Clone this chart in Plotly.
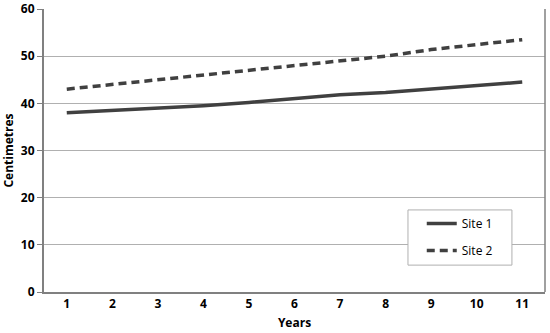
import plotly.graph_objects as go

years = [str(i) for i in range(1, 12)]
site1 = [38.0, 38.5, 39.0, 39.5, 40.2, 41.0, 41.8, 42.3, 43.0, 43.8, 44.5]
site2 = [43.0, 44.0, 45.0, 46.0, 47.0, 48.0, 49.0, 50.0, 51.4, 52.5, 53.5]
y_ticks = [0, 10, 20, 30, 40, 50, 60]

fig = go.Figure()
fig.add_trace(go.Scatter(x=years, y=site1, mode="lines", name="Site 1", legendgroup="s1",
                         line=dict(color="#404040", width=3.5)))
fig.add_trace(go.Scatter(x=years, y=site2, mode="lines", name="Site 2", legendgroup="s2",
                         line=dict(color="#404040", width=3.5, dash="8px,5px")))

font_family = "Open Sans, Liberation Sans, Arial, sans-serif"
fig.update_layout(
    width=550, height=333,
    margin=dict(l=44, r=5, t=9, b=41, autoexpand=False),
    paper_bgcolor="white", plot_bgcolor="white",
    font=dict(family=font_family, size=12, color="#000000"),
    showlegend=True,
    legend=dict(x=0.754, y=0.293, xanchor="left", yanchor="top",
                bgcolor="rgba(0,0,0,0)", borderwidth=0,
                font=dict(size=12), tracegroupgap=8,
                itemwidth=30),
    xaxis=dict(type="category", range=[-0.5, 10.5], automargin=False,
               showgrid=False, showline=True, linecolor="#808080", linewidth=2,
               mirror=False, ticks="", tickfont=dict(size=12, weight="bold"),
               title=dict(text="<b>Years</b>", font=dict(size=12), standoff=7)),
    yaxis=dict(range=[0, 60], tickvals=y_ticks, showgrid=True, automargin=False,
               gridcolor="#b0b0b0", gridwidth=1,
               showline=True, linecolor="#808080", linewidth=2,
               ticks="outside", ticklen=5, tickcolor="#808080", tickwidth=1,
               tickfont=dict(size=12, weight="bold"), zeroline=False,
               title=dict(text="<b>Centimetres</b>", font=dict(size=12), standoff=8)),
)
# right border of plot area
fig.add_shape(type="line", xref="paper", yref="paper", x0=1, x1=1, y0=0, y1=1,
              line=dict(color="#808080", width=1.5))
# legend frame
fig.add_shape(type="rect", xref="paper", yref="paper",
              x0=0.7265, x1=0.934, y0=0.095, y1=0.29,
              line=dict(color="#b0b0b0", width=1), fillcolor="white", layer="above")

fig.write_html("out.html", config={"displayModeBar": False},
               post_script="document.body.style.margin='0';")
